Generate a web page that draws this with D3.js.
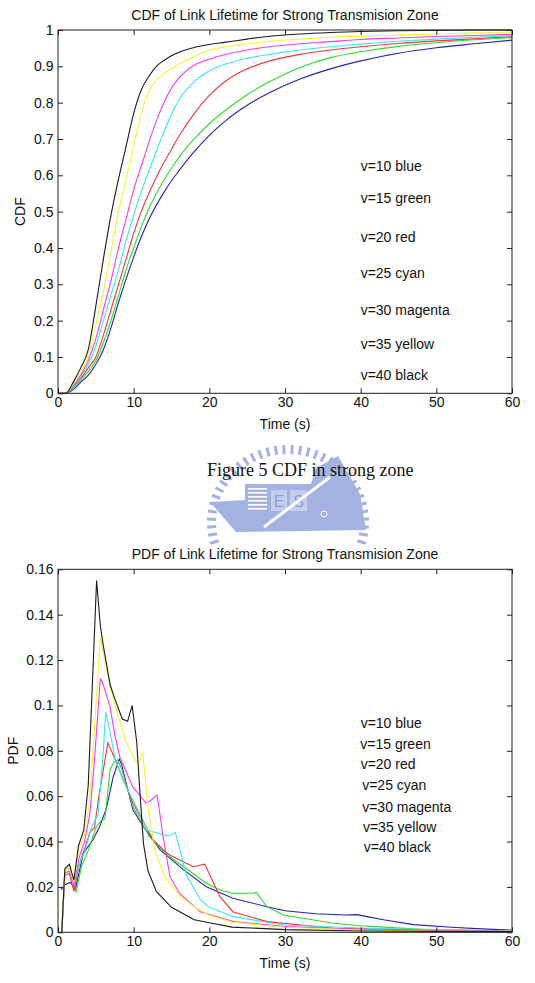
<!DOCTYPE html>
<html>
<head>
<meta charset="utf-8">
<script src="https://cdn.jsdelivr.net/npm/d3@7"></script>
<style>
  body { margin: 0; background: #fff; }
  text { font-family: "Liberation Sans", Arial, sans-serif; }
</style>
</head>
<body>
<div class="page"></div>
<script>
// ---- data ----
var xTicks = [0, 10, 20, 30, 40, 50, 60];
var xTickLabels = ["0", "10", "20", "30", "40", "50", "60"];
var cdfTicks = [0, 0.1, 0.2, 0.3, 0.4, 0.5, 0.6, 0.7, 0.8, 0.9, 1];
var cdfTickLabels = ["0", "0.1", "0.2", "0.3", "0.4", "0.5", "0.6", "0.7", "0.8", "0.9", "1"];
var pdfTicks = [0, 0.02, 0.04, 0.06, 0.08, 0.1, 0.12, 0.14, 0.16];
var pdfTickLabels = ["0", "0.02", "0.04", "0.06", "0.08", "0.1", "0.12", "0.14", "0.16"];

var legendLabels = ["v=10 blue", "v=15 green", "v=20 red", "v=25 cyan", "v=30 magenta", "v=35 yellow", "v=40 black"];
var lineColors = ["#2424b4", "#32d832", "#e83a3a", "#3ce6f0", "#f03ef0", "#f4f43a", "#1c1c1c"];

// CDF, shared time grid (s)
var cdfTime  = [0, 1, 2, 3, 4, 5, 6, 7, 8, 9, 10, 11, 12, 13, 14, 15, 16, 18, 20, 22, 25, 28, 32, 36, 40, 45, 50, 55, 60];
var cdfBlue    = [0, 0, 0.01, 0.03, 0.05, 0.08, 0.12, 0.18, 0.25, 0.315, 0.375, 0.43, 0.478, 0.518, 0.553, 0.585, 0.613, 0.665, 0.71, 0.748, 0.793, 0.828, 0.865, 0.893, 0.915, 0.936, 0.951, 0.962, 0.972];
var cdfGreen   = [0, 0, 0.015, 0.035, 0.06, 0.09, 0.14, 0.2, 0.27, 0.34, 0.4, 0.458, 0.508, 0.55, 0.587, 0.62, 0.65, 0.7, 0.742, 0.777, 0.822, 0.858, 0.897, 0.924, 0.94, 0.955, 0.965, 0.973, 0.979];
var cdfRed     = [0, 0, 0.02, 0.04, 0.07, 0.1, 0.16, 0.23, 0.3, 0.37, 0.44, 0.5, 0.55, 0.595, 0.635, 0.672, 0.708, 0.77, 0.82, 0.857, 0.893, 0.915, 0.933, 0.945, 0.954, 0.963, 0.97, 0.976, 0.982];
var cdfCyan    = [0, 0, 0.02, 0.045, 0.08, 0.13, 0.2, 0.27, 0.34, 0.42, 0.49, 0.555, 0.612, 0.667, 0.72, 0.768, 0.808, 0.858, 0.888, 0.905, 0.922, 0.933, 0.945, 0.954, 0.961, 0.969, 0.975, 0.98, 0.984];
var cdfMagenta = [0, 0, 0.02, 0.05, 0.09, 0.15, 0.23, 0.31, 0.4, 0.48, 0.56, 0.625, 0.69, 0.75, 0.8, 0.84, 0.868, 0.903, 0.92, 0.932, 0.945, 0.954, 0.962, 0.968, 0.974, 0.978, 0.982, 0.985, 0.988];
var cdfYellow  = [0, 0, 0.025, 0.06, 0.1, 0.19, 0.28, 0.39, 0.5, 0.59, 0.68, 0.77, 0.83, 0.862, 0.88, 0.894, 0.906, 0.927, 0.944, 0.953, 0.962, 0.969, 0.975, 0.98, 0.983, 0.986, 0.989, 0.992, 0.994];
var cdfBlack   = [0, 0, 0.03, 0.07, 0.12, 0.24, 0.37, 0.49, 0.59, 0.68, 0.77, 0.835, 0.872, 0.9, 0.916, 0.929, 0.939, 0.952, 0.96, 0.966, 0.975, 0.983, 0.989, 0.993, 0.996, 0.998, 0.999, 1, 1];

// PDF, [time, density] pairs per speed
var pdfBlue = [[0.4,0.0187],[0.9,0.021],[1.6,0.022],[2.0,0.0205],[2.3,0.019],[3.35,0.0348],[4.6,0.0407],[5.5,0.0465],[6.4,0.0547],[7.3,0.0686],[8.1,0.0764],[8.4,0.074],[9.9,0.054],[11.3,0.0465],[13.5,0.0363],[16.6,0.0275],[19.6,0.0201],[23.1,0.015],[27.6,0.0113],[30,0.0095],[34,0.0082],[38,0.0076],[39.5,0.0078],[41,0.0068],[43,0.0055],[47,0.0034],[52,0.0022],[56,0.0015],[60,0.0009]];
var pdfGreen = [[0.5,0],[0.9,0.027],[1.5,0.028],[2.4,0.0176],[3.1,0.029],[4.0,0.036],[5.0,0.046],[5.6,0.049],[6.2,0.05],[6.9,0.072],[7.4,0.075],[7.9,0.076],[8.4,0.072],[9.9,0.0554],[12.1,0.042],[14.4,0.0342],[16.6,0.0289],[19.6,0.0216],[21.4,0.0186],[23.1,0.0172],[25.8,0.0172],[26.2,0.0176],[27.6,0.0113],[29.8,0.0076],[36.4,0.004],[40.8,0.0027],[49.6,0.001],[60,0.0005]];
var pdfRed = [[0.5,0],[0.9,0.025],[1.5,0.026],[2.1,0.018],[2.8,0.03],[3.55,0.037],[4.2,0.044],[4.8,0.046],[5.5,0.062],[6.6,0.0836],[7.75,0.0745],[9.9,0.057],[12.6,0.0407],[14.4,0.0348],[15.2,0.0333],[17.9,0.0289],[19.4,0.03],[21.4,0.0157],[23.1,0.0091],[27.6,0.0047],[36.4,0.0018],[45,0.0012],[60,0.0006]];
var pdfCyan = [[0.5,0],[0.9,0.026],[1.5,0.027],[2.1,0.021],[2.8,0.03],[3.6,0.036],[4.4,0.046],[5.3,0.052],[6.0,0.08],[6.3,0.097],[6.9,0.088],[7.5,0.077],[8.6,0.067],[10.1,0.057],[11.9,0.045],[13.9,0.043],[14.6,0.0425],[15.5,0.044],[17.0,0.025],[18.8,0.0145],[20,0.011],[23.2,0.0069],[29.8,0.0032],[40.8,0.0018],[50,0.0012],[60,0.0007]];
var pdfMagenta = [[0.5,0],[0.9,0.026],[1.5,0.027],[2.1,0.021],[2.8,0.033],[3.5,0.04],[4.2,0.052],[4.8,0.075],[5.6,0.112],[6.0,0.109],[6.9,0.099],[7.5,0.087],[8.2,0.077],[9.9,0.064],[10.8,0.0605],[11.6,0.057],[12.2,0.058],[13.1,0.0605],[13.9,0.042],[14.8,0.0245],[16.1,0.017],[18.8,0.009],[23.2,0.0047],[30,0.0025],[40,0.0013],[50,0.0008],[60,0.0005]];
var pdfYellow = [[0.5,0],[0.9,0.027],[1.5,0.028],[2.1,0.022],[2.8,0.037],[3.5,0.043],[4.2,0.058],[5.6,0.13],[6.2,0.119],[7.0,0.107],[7.8,0.097],[9.0,0.084],[10.2,0.076],[10.6,0.0745],[11.2,0.079],[11.9,0.055],[12.8,0.036],[14.1,0.0245],[16.3,0.0155],[18.1,0.011],[20,0.0075],[23,0.0045],[30,0.0022],[40,0.001],[50,0.0006],[60,0.0004]];
var pdfBlack = [[0.5,0],[0.9,0.028],[1.5,0.03],[2.1,0.023],[2.7,0.038],[3.4,0.045],[4.0,0.065],[5.1,0.155],[5.6,0.135],[6.0,0.126],[6.9,0.109],[7.5,0.103],[8.5,0.094],[9.2,0.093],[9.8,0.1],[10.4,0.084],[10.8,0.063],[11.3,0.039],[11.9,0.027],[13.0,0.018],[15.0,0.011],[18.0,0.0055],[20,0.0042],[23,0.0023],[30,0.0012],[40,0.0006],[50,0.0004],[60,0.0003]];

// legend text anchors, in data units
var cdfLegendX = [40, 40, 40, 40, 40, 40, 40];
var cdfLegendY = [0.626, 0.538, 0.431, 0.331, 0.229, 0.136, 0.05];
var pdfLegendX = [40, 39.95, 40, 40.2, 40.2, 40.3, 40.4];
var pdfLegendY = [0.0921, 0.083, 0.074, 0.0649, 0.0554, 0.0465, 0.0375];

// ---- page ----
var W = 535, H = 983;
var svg = d3.select('.page').append('svg')
  .attr('width', W)
  .attr('height', H);

var left = 58, right = 512;

function drawPanel(opt) {
  var x = d3.scaleLinear().domain([0, 60]).range([left, right]);
  var y = d3.scaleLinear().domain(opt.yDomain).range([opt.bottom, opt.top]);
  var g = svg.append('g');

  // series
  var line = d3.line()
    .x(function(d) { return x(d[0]); })
    .y(function(d) { return y(d[1]); })
    .curve(opt.curve);
  g.selectAll('path.series')
    .data(opt.series)
    .enter()
    .append('path')
    .attr('class', 'series')
    .attr('d', function(d) { return line(d); })
    .attr('fill', 'none')
    .attr('stroke', function(d, i) { return lineColors[i]; })
    .attr('stroke-width', 1.1);

  // ticks on all four sides, pointing in
  var fmtX = function(d) { return xTickLabels[xTicks.indexOf(d)]; };
  var fmtY = function(d) { return opt.yLabels[opt.yTicks.indexOf(d)]; };
  var axes = [
    [d3.axisBottom(x).tickValues(xTicks).tickFormat(fmtX).tickSize(-5).tickPadding(3.5), 'translate(0,' + opt.bottom + ')'],
    [d3.axisTop(x).tickValues(xTicks).tickFormat('').tickSize(-5), 'translate(0,' + opt.top + ')'],
    [d3.axisLeft(y).tickValues(opt.yTicks).tickFormat(fmtY).tickSize(-5).tickPadding(4.5), 'translate(' + left + ',0)'],
    [d3.axisRight(y).tickValues(opt.yTicks).tickFormat('').tickSize(-5), 'translate(' + right + ',0)']
  ];
  axes.forEach(function(a) {
    var ax = g.append('g').attr('transform', a[1]).call(a[0]);
    ax.select('.domain').remove();
    ax.selectAll('line').attr('stroke', '#222');
    ax.selectAll('text').attr('font-size', 14).attr('fill', '#111')
      .style('font-family', '"Liberation Sans", Arial, sans-serif');
  });

  g.append('rect')
    .attr('x', left).attr('y', opt.top)
    .attr('width', right - left).attr('height', opt.bottom - opt.top)
    .attr('fill', 'none').attr('stroke', '#222').attr('stroke-width', 1);

  g.append('text')
    .attr('x', (left + right) / 2).attr('y', opt.top - 10)
    .attr('text-anchor', 'middle').attr('font-size', 14).attr('fill', '#111')
    .text(opt.title);

  g.append('text')
    .attr('x', (left + right) / 2).attr('y', opt.bottom + 36)
    .attr('text-anchor', 'middle').attr('font-size', 14).attr('fill', '#111')
    .text('Time (s)');

  g.append('text')
    .attr('transform', 'translate(' + opt.yLabelX + ',' + (opt.top + opt.bottom) / 2 + ') rotate(-90)')
    .attr('text-anchor', 'middle').attr('font-size', 14).attr('fill', '#111')
    .text(opt.yLabel);

  g.selectAll('text.legend')
    .data(legendLabels)
    .enter()
    .append('text')
    .attr('class', 'legend')
    .attr('x', function(d, i) { return x(opt.legendX[i]); })
    .attr('y', function(d, i) { return y(opt.legendY[i]); })
    .attr('dy', '0.35em')
    .attr('font-size', 14).attr('fill', '#111')
    .text(function(d) { return d; });
}

var cdfSeries = [cdfBlue, cdfGreen, cdfRed, cdfCyan, cdfMagenta, cdfYellow, cdfBlack].map(function(s) {
  return s.map(function(v, i) { return [cdfTime[i], v]; });
});

drawPanel({
  top: 30, bottom: 393.3,
  yDomain: [0, 1], yTicks: cdfTicks, yLabels: cdfTickLabels,
  title: 'CDF of Link Lifetime for Strong Transmision Zone',
  yLabel: 'CDF', yLabelX: 25,
  series: cdfSeries, curve: d3.curveMonotoneX,
  legendX: cdfLegendX, legendY: cdfLegendY
});

// ---- watermark emblem behind the caption ----
var logo = svg.append('g').attr('opacity', 0.8);
var cx = 288, cy = 522;
logo.selectAll('line.dash')
  .data(d3.range(36))
  .enter()
  .append('line')
  .attr('class', 'dash')
  .each(function(d) {
    var a = (196 - d * 212 / 35) * Math.PI / 180;
    d3.select(this)
      .attr('x1', cx + 72 * Math.cos(a)).attr('y1', cy - 68 * Math.sin(a))
      .attr('x2', cx + 81 * Math.cos(a)).attr('y2', cy - 77 * Math.sin(a));
  })
  .attr('stroke', '#8ea0dc').attr('stroke-width', 3);

logo.append('path')
  .attr('d', 'M210,502 L245,500 L245,484 L311,484 L316,468 L338,456 L360,494 L366,530 L236,532 Z')
  .attr('fill', '#8ea0dc');
d3.range(6).forEach(function(i) {
  logo.append('rect').attr('x', 248).attr('y', 488 + i * 4).attr('width', 19).attr('height', 1.6).attr('fill', '#fff');
});
logo.append('rect').attr('x', 271).attr('y', 490).attr('width', 16).attr('height', 21).attr('fill', '#b5c2ea');
logo.append('rect').attr('x', 290).attr('y', 490).attr('width', 17).attr('height', 21).attr('fill', '#b5c2ea');
logo.append('text').attr('x', 279).attr('y', 507).attr('text-anchor', 'middle')
  .attr('font-size', 16).attr('fill', '#7086d0').text('E');
logo.append('text').attr('x', 298.5).attr('y', 507).attr('text-anchor', 'middle')
  .attr('font-size', 16).attr('fill', '#7086d0').text('S');
logo.append('line').attr('x1', 264).attr('y1', 527).attr('x2', 330).attr('y2', 477)
  .attr('stroke', '#fff').attr('stroke-width', 3);
logo.append('circle').attr('cx', 324).attr('cy', 514).attr('r', 3)
  .attr('fill', 'none').attr('stroke', '#fff').attr('stroke-width', 1);

svg.append('text')
  .attr('x', 207).attr('y', 476)
  .attr('font-size', 18).attr('fill', '#111')
  .style('font-family', '"Liberation Serif", "Times New Roman", serif')
  .text('Figure 5 CDF in strong zone');

drawPanel({
  top: 569.3, bottom: 932.3,
  yDomain: [0, 0.16], yTicks: pdfTicks, yLabels: pdfTickLabels,
  title: 'PDF of Link Lifetime for Strong Transmision Zone',
  yLabel: 'PDF', yLabelX: 18,
  series: [pdfBlue, pdfGreen, pdfRed, pdfCyan, pdfMagenta, pdfYellow, pdfBlack], curve: d3.curveLinear,
  legendX: pdfLegendX, legendY: pdfLegendY
});
</script>
</body>
</html>
